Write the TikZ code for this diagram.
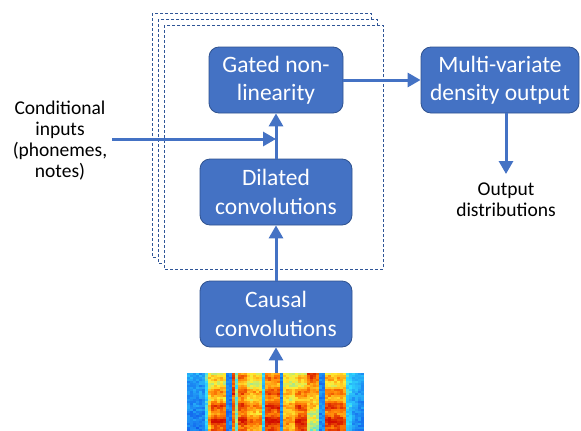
\documentclass[tikz,border=0pt]{standalone}
\usepackage{fontspec}
\setmainfont{Carlito}
\usetikzlibrary{arrows.meta}
\definecolor{boxblue}{HTML}{4472C4}
\definecolor{boxedge}{HTML}{2F528F}
\definecolor{dashblue}{HTML}{2F5597}
\definecolor{jb}{rgb}{0.05,0.32,0.92}
\definecolor{jc}{rgb}{0.2,0.88,1}
\definecolor{jy}{rgb}{1,0.93,0.2}
\definecolor{jo}{rgb}{1,0.5,0.02}
\definecolor{jr}{rgb}{0.82,0.05,0}
\tikzset{
  block/.style={draw=boxedge, line width=0.8pt, fill=boxblue, rounded corners=10pt,
    text=white, align=center, inner sep=0pt, minimum height=66pt,
    font=\fontsize{23.5}{28.5}\selectfont},
  flow/.style={draw=boxblue, line width=3pt, -{Triangle[length=13pt,width=14pt]}},
  layerframe/.style={draw=dashblue, dash pattern=on 3pt off 2pt, line width=0.9pt, fill=white},
  plain/.style={align=center, inner sep=0pt, font=\fontsize{19.5}{21}\selectfont}
}
\begin{document}
\begin{tikzpicture}[x=1pt,y=-1pt]
\useasboundingbox (0,0) rectangle (581,431);
% stacked layer frames
\draw[layerframe] (152,13) rectangle (371,257);
\draw[layerframe] (158,19) rectangle (377,263);
\draw[layerframe] (164,25) rectangle (383,269);
% blocks
\node[block, minimum width=134pt] (gated) at (276,80) {Gated non-\\linearity};
\node[block, minimum width=152pt] (dilated) at (276,192) {Dilated\\convolutions};
\node[block, minimum width=152pt] (causal) at (276,314) {Causal\\convolutions};
\node[block, minimum width=158pt] (multi) at (500,80) {Multi-variate\\density output};
% texts
\node[plain] (cond) at (60,141) {Conditional\\inputs\\(phonemes,\\notes)};
\node[plain] (outd) at (506,200) {Output\\distributions};
% spectrogram
\pgfmathsetseed{11}
\def\toparr{{0.2,0.22,0.2,0.22,0.2,0.22,0.4,0.55,0.55,0.58,0.55,0.6,0.55,0.12,0.12,0.9,0.4,0.72,0.75,0.7,0.58,0.55,0.6,0.55,0.58,0.3,0.72,0.75,0.7,0.72,0.75,0.12,0.55,0.58,0.55,0.55,0.55,0.58,0.55,0.6,0.9,0.92,0.88,0.85,0.12,0.14,0.6,0.62,0.6,0.58,0.6,0.62,0.55,0.35,0.32,0.28,0.25,0.22,0.2}}
\def\botarr{{0.12,0.1,0.12,0.1,0.12,0.1,0.3,0.75,0.95,0.97,0.95,0.95,0.92,0.12,0.12,0.85,0.5,0.9,0.92,0.9,0.8,0.82,0.8,0.78,0.8,0.3,0.95,0.97,0.98,0.96,0.95,0.15,0.75,0.78,0.75,0.72,0.95,0.97,0.96,0.95,0.5,0.48,0.5,0.45,0.15,0.15,0.95,0.97,0.96,0.98,0.95,0.92,0.9,0.3,0.28,0.15,0.14,0.12,0.12}}
\begin{scope}
\clip (187,373) rectangle (364,431);
\fill[jb] (187,373) rectangle (364,431);
\foreach \c in {0,...,58}{
  \pgfmathsetmacro\tv{\toparr[\c]}
  \pgfmathsetmacro\bv{\botarr[\c]}
  \foreach \r in {0,...,29}{
    \pgfmathsetmacro\v{max(0,min(0.999,\tv+(\bv-\tv)*((\r/29)^0.8)+0.09*\bv*sin(\r*50)+0.14*(rnd-0.5)))}
    \ifdim\v pt<0.35pt
      \pgfmathtruncatemacro\p{100*\v/0.35}
      \colorlet{cellc}{jc!\p!jb}
    \else\ifdim\v pt<0.6pt
      \pgfmathtruncatemacro\p{100*(\v-0.35)/0.25}
      \colorlet{cellc}{jy!\p!jc}
    \else\ifdim\v pt<0.8pt
      \pgfmathtruncatemacro\p{100*(\v-0.6)/0.2}
      \colorlet{cellc}{jo!\p!jy}
    \else
      \pgfmathtruncatemacro\p{100*(\v-0.8)/0.2}
      \colorlet{cellc}{jr!\p!jo}
    \fi\fi\fi
    \fill[cellc] ({187+3*\c},{373+2*\r}) rectangle ++(3.05,2.05);
  }
}
\end{scope}
\coordinate (spec) at (276,373);
\coordinate (condstart) at (112,139);
\coordinate (join) at (276,139);
\coordinate (outtip) at (506,174);
% connectors
\draw[flow] (spec) -- (causal.south);
\draw[flow] (causal.north) -- (dilated.south);
\draw[flow] (dilated.north) -- (gated.south);
\draw[flow] (condstart) -- (join);
\draw[flow] (gated.east) -- (multi.west);
\draw[flow] (multi.south -| outtip) -- (outtip);
\end{tikzpicture}
\end{document}
